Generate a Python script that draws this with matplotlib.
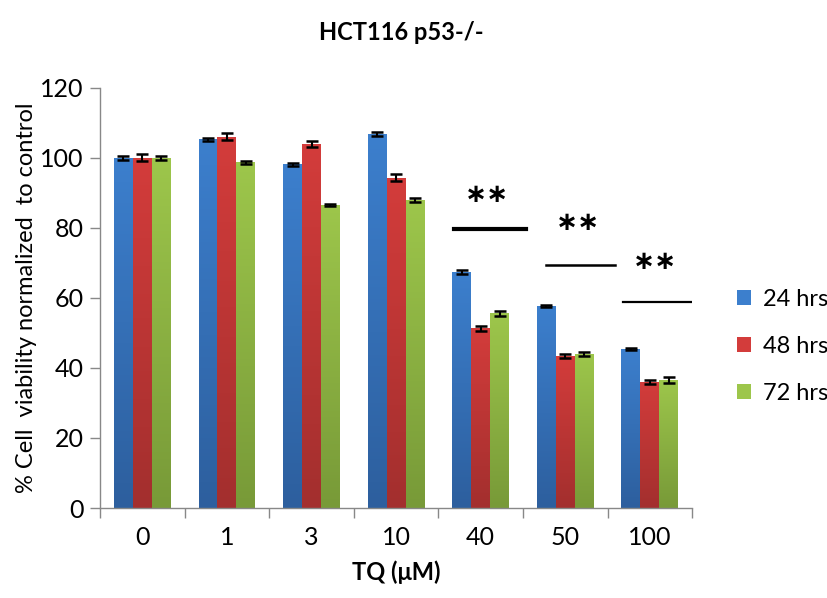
import matplotlib
matplotlib.use("Agg")
import matplotlib.pyplot as plt
import numpy as np
from matplotlib.colors import LinearSegmentedColormap

plt.rcParams['font.family'] = ['Lato', 'DejaVu Sans']

doses = ["0", "1", "3", "10", "40", "50", "100"]
series = ["24 hrs", "48 hrs", "72 hrs"]
v24 = [100, 105.3, 98.2, 106.8, 67.4, 57.7, 45.4]
v48 = [100, 106.0, 104.0, 94.3, 51.4, 43.4, 36.0]
v72 = [100, 98.8, 86.6, 88.0, 55.6, 44.0, 36.6]
e24 = [0.5, 0.5, 0.4, 0.6, 0.5, 0.3, 0.3]
e48 = [1.0, 1.0, 0.9, 1.0, 0.7, 0.6, 0.5]
e72 = [0.6, 0.4, 0.2, 0.5, 0.8, 0.6, 0.8]

# significance marks (x in category units)
sig_x0 = [3.68, 4.77, 5.68]
sig_x1 = [4.54, 5.59, 6.49]
sig_line = [79.6, 69.3, 58.9]
sig_star_x = [4.07, 5.15, 6.06]
sig_star = [89.5, 81.5, 70.3]

# gradient colours (bottom, top)
grads = [("#2d5f9e", "#3c7fcd"), ("#a32f2e", "#d33c3b"), ("#789a38", "#9dc64b")]

fig = plt.figure(figsize=(8.27, 5.98), dpi=100)
ax = fig.add_axes([0.121, 0.1505, 0.716, 0.7025])

x = np.arange(len(doses))
w = 0.224
vals = [v24, v48, v72]
errs = [e24, e48, e72]
for k in range(3):
    pos = x + (k - 1) * w
    bars = ax.bar(pos, vals[k], w, color=grads[k][1], label=series[k], zorder=2)
    cmap = LinearSegmentedColormap.from_list("g%d" % k, [grads[k][0], grads[k][1]])
    grad = np.linspace(0, 1, 100).reshape(-1, 1)
    for b in bars:
        im = ax.imshow(grad, cmap=cmap, aspect="auto", origin="lower",
                       extent=[b.get_x(), b.get_x() + b.get_width(), 0, b.get_height()],
                       zorder=2.5)
        im.set_clip_path(b)
    ax.errorbar(pos, vals[k], yerr=errs[k], fmt="none", ecolor="black",
                elinewidth=1.5, capsize=4.5, capthick=1.8, zorder=3)

lws = [3, 1.8, 1.6]
for i in range(3):
    ax.plot([sig_x0[i], sig_x1[i]], [sig_line[i], sig_line[i]], color="black", lw=lws[i], zorder=3)
    ax.text(sig_star_x[i], sig_star[i], "\u2217\u2217", ha="center", va="center", fontsize=19,
            family="DejaVu Sans", fontweight="semibold")

ax.set_xlim(-0.5, 6.5)
ax.set_ylim(0, 120)
ax.set_yticks(range(0, 121, 20))
ax.set_xticks(x)
ax.set_xticklabels(doses)
ax.set_xticks(np.arange(-0.5, 7, 1), minor=True)
ax.tick_params(axis="x", which="major", length=0, labelsize=18, pad=13)
ax.tick_params(axis="x", which="minor", length=7, color="#888888", width=1)
ax.tick_params(axis="y", length=7, color="#888888", width=1, labelsize=18, pad=5)
for s in ["top", "right"]:
    ax.spines[s].set_visible(False)
for s in ["left", "bottom"]:
    ax.spines[s].set_color("#888888")
    ax.spines[s].set_linewidth(1)

ax.set_ylabel("% Cell  viability normalized  to control", fontsize=17, labelpad=2)
ax.set_xlabel("TQ (\u03bcM)", fontsize=17, fontweight="bold", labelpad=8)
fig.text(0.485, 0.945, "HCT116 p53-/-", ha="center", va="center", fontsize=17, fontweight="bold")

leg = ax.legend(loc="center left", bbox_to_anchor=(1.04, 0.385), frameon=False,
                fontsize=17, handlelength=0.6, handleheight=0.6, labelspacing=1.1,
                handletextpad=0.5)

fig.savefig("out.png", dpi=100)
